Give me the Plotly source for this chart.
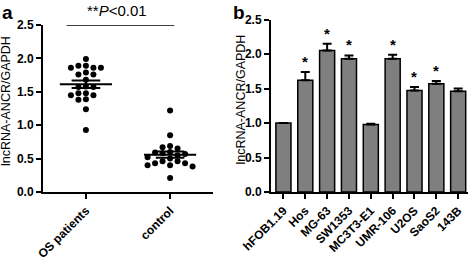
import numpy as np
import plotly.graph_objects as go

# ---------------- data ----------------
groups_a = ["OS patients", "control"]
os_vals = [1.99, 1.89, 1.89, 1.86, 1.86, 1.86, 1.79, 1.76, 1.76, 1.68, 1.58,
           1.57, 1.57, 1.48, 1.48, 1.45, 1.45, 1.39, 1.38, 1.24, 0.93]
ctrl_vals = [1.22, 0.85, 0.69, 0.67, 0.65, 0.60, 0.59, 0.58, 0.57, 0.55, 0.52,
             0.50, 0.46, 0.46, 0.43, 0.43, 0.40, 0.40, 0.38, 0.21]
p_text = "**<i>P</i>&lt;0.01"

cells = ["hFOB1.19", "Hos", "MG-63", "SW1353", "MC3T3-E1", "UMR-106", "U2OS", "SaoS2", "143B"]
expr = [1.00, 1.62, 2.05, 1.93, 0.98, 1.93, 1.47, 1.57, 1.46]
expr_err = [0.0, 0.12, 0.10, 0.05, 0.01, 0.06, 0.05, 0.04, 0.04]
sig = ["", "*", "*", "*", "", "*", "*", "*", ""]

y_ticks = [0.0, 0.5, 1.0, 1.5, 2.0, 2.5]
y_ticktext = ["0.0", "0.5", "1.0", "1.5", "2.0", "2.5"]
y_title = "lncRNA-ANCR/GAPDH"

# ---------------- layout geometry ----------------
W, H = 472, 259
FONT = "Liberation Sans, Arial, sans-serif"
ax_dom = [43 / W, 213 / W]
ay_dom = [(H - 192) / H, (H - 25) / H]
bx_dom = [271 / W, 468 / W]
by_dom = [(H - 192) / H, (H - 19.5) / H]
xa_range = [-0.51, 1.51]
px_per_cat = (ax_dom[1] - ax_dom[0]) * W / (xa_range[1] - xa_range[0])
px_per_y = (ay_dom[1] - ay_dom[0]) * H / 2.5


def swarm(vals, slot_px=7.5, min_dy=6.0):
    order = sorted(range(len(vals)), key=lambda i: -vals[i])
    placed = []
    offs = [0.0] * len(vals)
    for i in order:
        y = vals[i] * px_per_y
        for s in [0, -1, 1, -2, 2, -3, 3, -4, 4, -5, 5]:
            if all(not (ps == s and abs(py - y) < min_dy) for ps, py in placed):
                break
        placed.append((s, y))
        offs[i] = s * slot_px / px_per_cat
    return offs


fig = go.Figure()

# ---- panel a ----
for gi, vals in enumerate([os_vals, ctrl_vals]):
    offs = swarm(vals)
    fig.add_trace(go.Scatter(
        x=[gi + o for o in offs], y=vals, mode="markers",
        marker=dict(size=6, color="black"), xaxis="x", yaxis="y", showlegend=False,
        cliponaxis=False))
    m = float(np.mean(vals))
    sem = float(np.std(vals, ddof=1) / np.sqrt(len(vals)))
    fig.add_trace(go.Scatter(
        x=[gi - 0.31, gi + 0.31], y=[m, m], mode="lines",
        line=dict(color="black", width=2), xaxis="x", yaxis="y", showlegend=False))
    fig.add_trace(go.Scatter(
        x=[gi], y=[m], mode="markers", marker=dict(size=1, color="rgba(0,0,0,0)"),
        error_y=dict(type="data", array=[sem], color="black", thickness=2,
                     width=0.17 * px_per_cat),
        xaxis="x", yaxis="y", showlegend=False))

fig.add_shape(type="line", xref="x", yref="y", x0=-0.23, x1=1.05, y0=2.5, y1=2.5,
              line=dict(color="black", width=1.5))

# ---- panel b ----
fig.add_trace(go.Bar(
    x=list(range(len(cells))), y=expr, width=0.69,
    marker=dict(color="#7f7f7f", line=dict(color="black", width=1.5)),
    error_y=dict(type="data", array=expr_err, arrayminus=[0] * len(cells), symmetric=False,
                 color="black", thickness=2, width=4.5),
    xaxis="x2", yaxis="y2", showlegend=False))

annotations = []
for i, s in enumerate(sig):
    if s:
        annotations.append(dict(x=i, y=expr[i] + expr_err[i], xref="x2", yref="y2",
                                text=s, showarrow=False, yanchor="bottom",
                                font=dict(family=FONT, size=15, color="black", weight="bold")))

annotations += [
    dict(x=0 / W, y=1, xref="paper", yref="paper", text="a", showarrow=False,
         xanchor="left", yanchor="top", font=dict(family=FONT, size=19, color="black", weight="bold")),
    dict(x=231 / W, y=1, xref="paper", yref="paper", text="b", showarrow=False,
         xanchor="left", yanchor="top", font=dict(family=FONT, size=19, color="black", weight="bold")),
    dict(x=117 / W, y=1, xref="paper", yref="paper", text=p_text, showarrow=False,
         xanchor="center", yanchor="top", font=dict(family=FONT, size=15, color="black")),
    dict(x=6 / W, y=(H - 101) / H, xref="paper", yref="paper", text=y_title, showarrow=False,
         textangle=-90, xanchor="center", yanchor="middle",
         font=dict(family=FONT, size=12.5, color="black")),
    dict(x=240.5 / W, y=(H - 100) / H, xref="paper", yref="paper", text=y_title, showarrow=False,
         textangle=-90, xanchor="center", yanchor="middle",
         font=dict(family=FONT, size=12.5, color="black")),
]

axis_common = dict(showline=True, linecolor="black", linewidth=2, ticks="outside",
                   ticklen=5, tickwidth=1.5, tickcolor="black", showgrid=False,
                   zeroline=False, automargin=False,
                   tickfont=dict(family=FONT, size=12, color="black", weight="bold"))

fig.update_layout(
    template="none",
    width=W, height=H, margin=dict(l=0, r=0, t=0, b=0, pad=0), autosize=False,
    paper_bgcolor="white", plot_bgcolor="white",
    font=dict(family=FONT, color="black"),
    xaxis=dict(domain=ax_dom, range=xa_range, tickvals=[0, 1], ticktext=groups_a,
               tickangle=-45, anchor="y", **axis_common),
    yaxis=dict(domain=ay_dom, range=[0, 2.5], tickvals=y_ticks, ticktext=y_ticktext,
               anchor="x", **axis_common),
    xaxis2=dict(domain=bx_dom, range=[-0.57, 8.45], tickvals=list(range(len(cells))),
                ticktext=cells, tickangle=-45, anchor="y2", **axis_common),
    yaxis2=dict(domain=by_dom, range=[0, 2.5], tickvals=y_ticks, ticktext=y_ticktext,
                anchor="x2", **axis_common),
    annotations=annotations,
)

fig.write_html("out.html", config={"displayModeBar": False},
               post_script="document.body.style.margin='0';document.body.style.overflow='hidden';")
